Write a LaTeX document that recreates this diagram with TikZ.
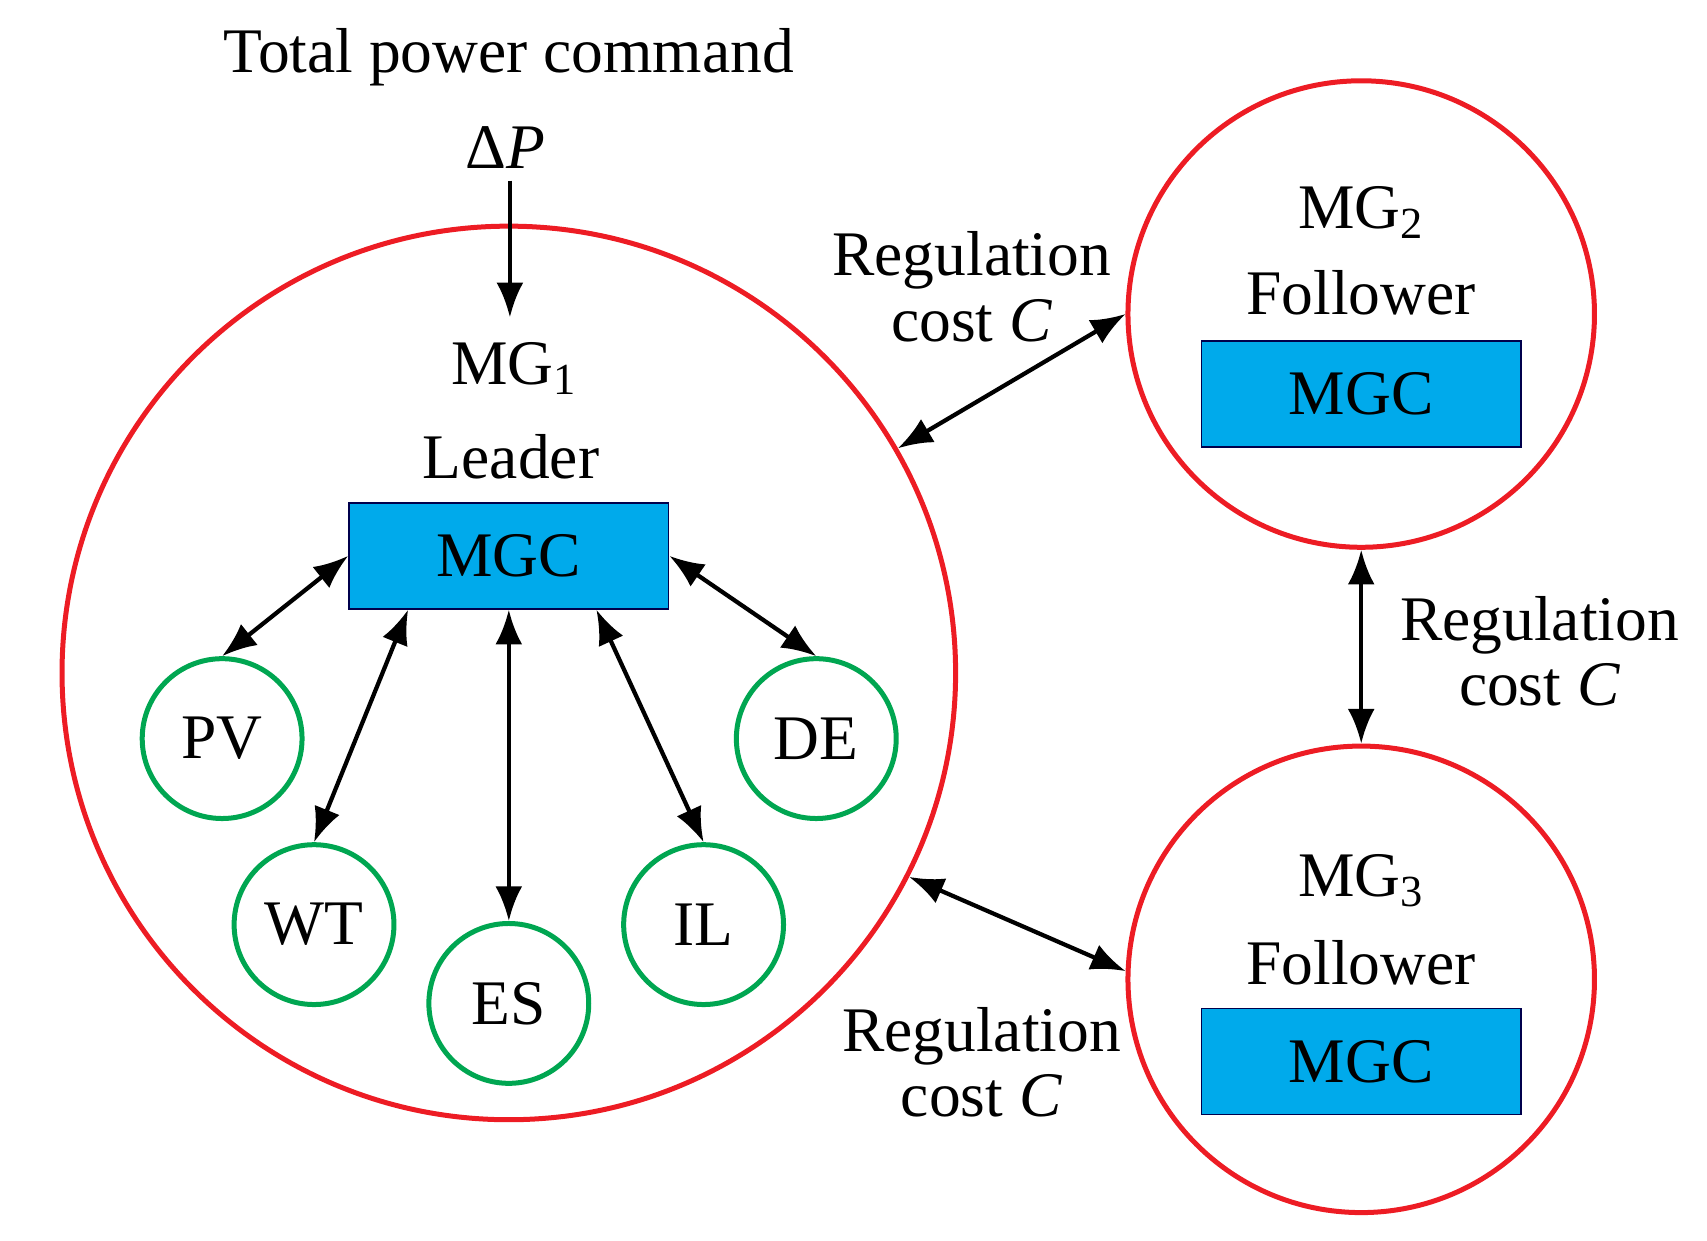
\documentclass[tikz,border=0pt]{standalone}
\usepackage{fontspec}
\setmainfont{Liberation Serif}
\usetikzlibrary{arrows.meta}
\definecolor{mgred}{RGB}{237,28,36}
\definecolor{mggreen}{RGB}{0,166,81}
\definecolor{mgblue}{RGB}{0,170,235}
\begin{document}
\begin{tikzpicture}[x=0.01cm,y=-0.01cm,
  txt/.style={font=\fontsize{16.5}{20}\selectfont, inner sep=0pt, align=center},
  big/.style={draw=mgred, line width=1.3pt, circle, minimum size=#1*0.02cm, inner sep=0pt},
  small/.style={draw=mggreen, line width=1.3pt, circle, minimum size=1.46cm, inner sep=0pt, font=\fontsize{16.5}{20}\selectfont},
  box/.style={draw=black!70!blue, line width=0.4pt, fill=mgblue, minimum width=2.92cm, minimum height=0.97cm, inner sep=0pt, font=\fontsize{16.5}{20}\selectfont},
  arr/.style={line width=1.1pt, -{Latex[length=9pt,width=7pt]}},
  darr/.style={line width=1.1pt, {Latex[length=9pt,width=7pt]}-{Latex[length=9pt,width=7pt]}}]
\useasboundingbox (0,0) rectangle (1560,1134);
\node[big=408] (c1) at (465,615) {};
\node[big=213] (c2) at (1244,287) {};
\node[big=213] (c3) at (1244,895) {};
\node[box] (b1) at (465,508) {MGC};
\node[box] (b2) at (1244,360) {MGC};
\node[box] (b3) at (1244,970) {MGC};
\node[small] (pv) at (203,675) {PV};
\node[small] (wt) at (287,845) {WT};
\node[small] (es) at (465,917) {ES};
\node[small] (il) at (643,845) {IL};
\node[small] (de) at (746,675) {DE};
\node[txt] (tpc) at (465,52) {Total power command};
\node[txt] (dp) at (462,135) {Δ\textit{P}};
\node[txt] (mg1) at (470,337) {MG\textsubscript{1}};
\node[txt] (ld) at (467,417) {Leader};
\node[txt] (mg2) at (1244,194) {MG\textsubscript{2}};
\node[txt] (f2) at (1244,268) {Follower};
\node[txt] (mg3) at (1244,805) {MG\textsubscript{3}};
\node[txt] (f3) at (1244,880) {Follower};
\node[txt] (r1) at (888,262) {Regulation\\[-3pt]cost \textit{C}};
\node[txt] (r2) at (1407,595) {Regulation\\[-3pt]cost \textit{C}};
\node[txt] (r3) at (897,971) {Regulation\\[-3pt]cost \textit{C}};
\coordinate (dpa) at (466,165);
\coordinate (dpb) at (466,290);
\draw[arr] (dpa) -- (dpb);
\draw[darr] (c1.30) -- (c2.180);
\draw[darr] (c2.south) -- (c3.north);
\draw[darr] (c1.-27) -- (c3.178);
\draw[darr] (b1.west) -- (pv.north);
\draw[darr] ([xshift=-0.92cm]b1.south) -- (wt.north);
\draw[darr] (b1.south) -- (es.north);
\draw[darr] ([xshift=0.8cm]b1.south) -- (il.north);
\draw[darr] (b1.east) -- (de.north);
\end{tikzpicture}
\end{document}
